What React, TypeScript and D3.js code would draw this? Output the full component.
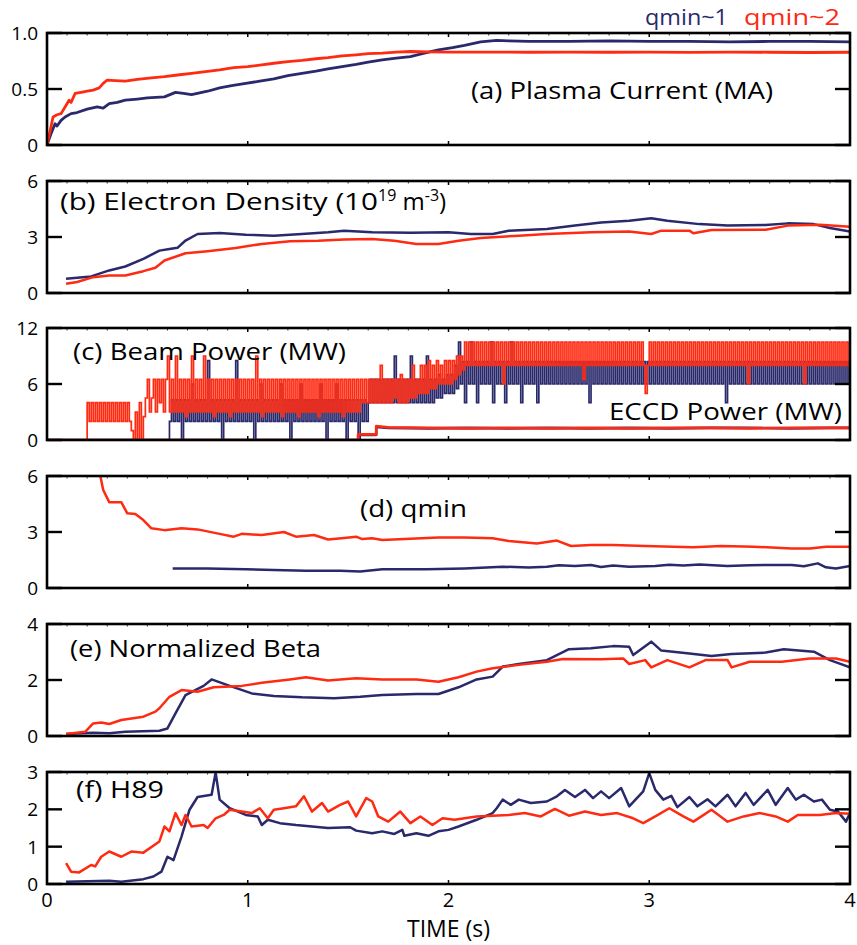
import React from "react";
import * as d3 from "d3";

const NAVY = "#29296b";
const RED = "#ff2a12";
const FONT = "'Open Sans', 'Liberation Sans', sans-serif";

const X0 = 47;
const X1 = 850;
const PH = 112;

const timeTicks = [0, 1, 2, 3, 4];

// (a) Plasma current (MA)
const currentQ1: [number, number][] = [
  [0, 0], [0.02, 0.1], [0.04, 0.19], [0.05, 0.17], [0.07, 0.22], [0.09, 0.25], [0.12, 0.28], [0.15, 0.29], [0.2, 0.32],
  [0.25, 0.34], [0.28, 0.33], [0.31, 0.37], [0.35, 0.38], [0.39, 0.4], [0.45, 0.41], [0.5, 0.42], [0.585, 0.43], [0.64, 0.47],
  [0.68, 0.46], [0.72, 0.45], [0.8, 0.48], [0.86, 0.51], [0.92, 0.53], [0.99, 0.55], [1.06, 0.57], [1.13, 0.59],
  [1.2, 0.62], [1.27, 0.64], [1.34, 0.66], [1.4, 0.68], [1.47, 0.7], [1.54, 0.72], [1.6, 0.74], [1.67, 0.76],
  [1.74, 0.775], [1.81, 0.79], [1.88, 0.82], [1.95, 0.85], [2.02, 0.87], [2.08, 0.89], [2.16, 0.92], [2.24, 0.935],
  [2.3, 0.93], [2.4, 0.925], [2.6, 0.925], [2.8, 0.93], [3.0, 0.925], [3.2, 0.925], [3.4, 0.92], [3.6, 0.925],
  [3.8, 0.925], [4.0, 0.92],
];
const currentQ2: [number, number][] = [
  [0, 0], [0.015, 0.12], [0.03, 0.25], [0.05, 0.27], [0.07, 0.28], [0.09, 0.34], [0.11, 0.4], [0.12, 0.38], [0.14, 0.46],
  [0.17, 0.47], [0.2, 0.48], [0.23, 0.49], [0.26, 0.51], [0.28, 0.55], [0.3, 0.58], [0.34, 0.575], [0.39, 0.57],
  [0.45, 0.585], [0.52, 0.6], [0.585, 0.61], [0.65, 0.625], [0.72, 0.64], [0.79, 0.655], [0.86, 0.67], [0.93, 0.69],
  [1.0, 0.7], [1.07, 0.715], [1.13, 0.73], [1.2, 0.745], [1.27, 0.755], [1.34, 0.77], [1.4, 0.78], [1.47, 0.795],
  [1.54, 0.805], [1.6, 0.815], [1.67, 0.82], [1.74, 0.83], [1.81, 0.835], [1.9, 0.832], [2.0, 0.83], [2.2, 0.83],
  [2.4, 0.828], [2.6, 0.83], [2.8, 0.828], [3.0, 0.83], [3.2, 0.827], [3.4, 0.83], [3.6, 0.828], [3.8, 0.826],
  [4.0, 0.828],
];

// (b) Electron density (1e19 m^-3)
const densityQ1: [number, number][] = [
  [0.095, 0.76], [0.22, 0.89], [0.31, 1.21], [0.39, 1.42], [0.48, 1.83], [0.56, 2.27], [0.61, 2.36], [0.65, 2.42],
  [0.69, 2.81], [0.75, 3.16], [0.86, 3.21], [0.99, 3.12], [1.13, 3.07], [1.27, 3.16], [1.4, 3.25], [1.48, 3.34],
  [1.62, 3.25], [1.81, 3.23], [2.0, 3.25], [2.11, 3.16], [2.22, 3.16], [2.3, 3.34], [2.49, 3.43], [2.63, 3.61],
  [2.76, 3.78], [2.9, 3.87], [3.01, 4.0], [3.09, 3.87], [3.25, 3.69], [3.39, 3.61], [3.58, 3.64], [3.69, 3.73],
  [3.82, 3.69], [3.9, 3.48], [4.0, 3.3],
];
const densityQ2: [number, number][] = [
  [0.095, 0.5], [0.15, 0.59], [0.23, 0.85], [0.31, 0.94], [0.39, 0.94], [0.48, 1.17], [0.54, 1.35], [0.585, 1.74],
  [0.69, 2.13], [0.8, 2.24], [0.94, 2.41], [1.07, 2.63], [1.21, 2.77], [1.35, 2.8], [1.48, 2.86], [1.62, 2.89],
  [1.73, 2.8], [1.84, 2.63], [1.95, 2.63], [2.05, 2.8], [2.16, 2.95], [2.35, 3.07], [2.49, 3.16], [2.71, 3.25],
  [2.9, 3.3], [3.01, 3.16], [3.06, 3.34], [3.2, 3.34], [3.22, 3.2], [3.31, 3.38], [3.58, 3.39], [3.69, 3.61],
  [3.85, 3.66], [4.0, 3.55],
];

// (c) Beam power (MW), sampled every 0.01 s (one row = 0.2 s)
const beamTime = d3.range(0, 401).map((i) => i / 100);
const beamQ1 = [
  0, 0, 0, 0, 0, 0, 0, 0, 0, 0, 0, 0, 0, 0, 0, 0, 0, 0, 0, 0,
  0, 0, 0, 0, 0, 0, 0, 0, 0, 0, 0, 0, 0, 0, 0, 0, 0, 0, 0, 0,
  0, 0, 0, 0, 0, 0, 0, 0, 0, 0, 0, 0, 0, 0, 0, 0, 0, 0, 0, 0,
  0, 2, 4.3, 2, 4.3, 2, 4.3, 0, 4.3, 2, 4.3, 2, 6, 2, 4.3, 2, 4.3, 2, 4.3, 2,
  8.5, 2, 4.3, 2, 4.3, 2, 4.3, 0, 4.3, 2, 4.3, 2, 4.3, 2, 8.5, 2, 4.3, 2, 4.3, 2,
  4.3, 2, 4.3, 0, 4.3, 2, 6, 2, 4.3, 2, 4.3, 2, 4.3, 2, 4.3, 2, 6, 2, 4.3, 2,
  4.3, 0, 4.3, 2, 4.3, 2, 6, 2, 4.3, 2, 4.3, 2, 4.3, 2, 4.3, 2, 6, 2, 4.3, 0,
  4.3, 2, 4.3, 2, 6, 2, 4.3, 2, 4.3, 0, 4.3, 2, 4.3, 2, 4.3, 0, 4.3, 2, 4.3, 2,
  4, 6.5, 4, 6.5, 4, 6.5, 4, 6.5, 4, 6.5, 4, 6.5, 4, 9, 4, 6.5, 4, 6.5, 4, 6.5,
  4, 9, 4, 6.5, 4, 6.5, 4, 6.5, 4, 9, 4, 6.5, 4, 6.5, 4.5, 7, 4.5, 6.5, 5, 7,
  5, 7, 5, 8, 5.5, 10.5, 6, 8.4, 4, 8.4, 6, 10.5, 6, 8.4, 4, 8.4, 6, 8.4, 6, 8.4,
  6, 10.5, 4, 8.4, 6, 8.4, 6, 8.4, 4, 8.4, 6, 10.5, 6, 8.4, 6, 8.4, 4, 8.4, 6, 8.4,
  6, 8.4, 6, 8.4, 4, 8.4, 6, 8.4, 6, 8.4, 6, 8.4, 6, 8.4, 6, 8.4, 6, 8.4, 6, 8.4,
  6, 8.4, 6, 8.4, 6, 8.4, 6, 8.4, 6, 8.4, 4, 8.4, 6, 8.4, 6, 8.4, 6, 8.4, 6, 8.4,
  6, 8.4, 6, 8.4, 6, 8.4, 6, 8.4, 6, 8.4, 6, 8.4, 6, 8.4, 6, 8.4, 6, 8.4, 6, 8.4,
  6, 8.4, 6, 8.4, 6, 8.4, 6, 8.4, 6, 8.4, 6, 8.4, 6, 8.4, 6, 8.4, 6, 8.4, 6, 8.4,
  6, 8.4, 6, 8.4, 6, 8.4, 6, 8.4, 6, 8.4, 6, 8.4, 6, 8.4, 6, 8.4, 6, 8.4, 4, 8.4,
  6, 8.4, 6, 8.4, 6, 8.4, 6, 8.4, 6, 8.4, 6, 8.4, 6, 8.4, 6, 8.4, 6, 8.4, 6, 8.4,
  6, 8.4, 6, 8.4, 6, 8.4, 6, 8.4, 6, 8.4, 6, 8.4, 6, 8.4, 6, 8.4, 6, 8.4, 6, 8.4,
  6, 8.4, 6, 8.4, 6, 8.4, 6, 8.4, 6, 8.4, 6, 8.4, 6, 8.4, 6, 8.4, 6, 8.4, 6, 8.4,
  6,
];
const beamQ2 = [
  0, 0, 0, 0, 0, 0, 0, 0, 0, 0, 0, 0, 0, 0, 0, 0, 0, 0, 0, 0,
  4, 2, 4, 2, 4, 2, 4, 2, 4, 2, 4, 2, 4, 2, 4, 2, 4, 2, 4, 2,
  4, 2, 1, 0, 3, 0, 4, 0, 2.5, 4.5, 6.5, 3, 4.5, 6.5, 3, 6.5, 4, 6.5, 3, 6.5,
  9, 3, 6.5, 3, 9, 3, 6.5, 3, 6.5, 2.5, 6.5, 3, 9, 3, 6.5, 3, 6.5, 3, 9, 3,
  6.5, 3, 6.5, 2.5, 6.5, 3, 6.5, 3, 6.5, 3, 6.5, 2.5, 6.5, 3, 6.5, 3, 6.5, 3, 6.5, 3,
  6.5, 3, 6.5, 3, 9, 3, 6.5, 2.5, 6.5, 3, 6.5, 3, 6.5, 3, 6.5, 3, 6.5, 2.5, 6.5, 3,
  6.5, 3, 6.5, 3, 6.5, 2.5, 6.5, 3, 6.5, 3, 6.5, 3, 6.5, 3, 6.5, 2.5, 6.5, 3, 6.5, 3,
  6.5, 3, 6.5, 3, 6.5, 3, 6.5, 2.5, 6.5, 3, 6.5, 3, 6.5, 3, 6.5, 3, 6.5, 4, 6.5, 4,
  6.5, 4, 6.5, 4, 6.5, 4, 8, 4, 6.5, 4, 6.5, 4, 6.5, 4.5, 6.5, 4, 7, 4, 6.5, 4,
  6.5, 4.5, 8, 4.5, 6.5, 5, 8, 5, 8, 5, 8.5, 5.5, 8, 5.5, 8.5, 6, 8, 6, 8.5, 6,
  8.5, 6, 8.5, 6.5, 9, 7, 9, 7.5, 10.5, 8, 10.5, 8, 10.5, 8, 10.5, 8, 10.5, 8, 10.5, 8,
  10.5, 8, 10.5, 8, 10.5, 8, 10.5, 6, 10.5, 8, 10.5, 8, 10.5, 8, 10.5, 8, 10.5, 8, 10.5, 8,
  10.5, 8, 10.5, 8, 10.5, 8, 10.5, 8, 10.5, 8, 10.5, 8, 10.5, 8, 10.5, 8, 10.5, 8, 10.5, 8,
  10.5, 8, 10.5, 8, 10.5, 8, 10.5, 6.5, 10.5, 8, 10.5, 8, 10.5, 8, 10.5, 8, 10.5, 8, 10.5, 8,
  10.5, 8, 10.5, 8, 10.5, 8, 10.5, 8, 10.5, 8, 10.5, 8, 10.5, 8, 10.5, 8, 10.5, 8, 5, 8,
  10.5, 8, 10.5, 8, 10.5, 8, 10.5, 8, 10.5, 8, 10.5, 8, 10.5, 8, 10.5, 8, 10.5, 8, 10.5, 8,
  10.5, 8, 10.5, 8, 10.5, 8, 10.5, 8, 10.5, 8, 10.5, 8, 10.5, 8, 10.5, 8, 10.5, 8, 10.5, 8,
  10.5, 8, 10.5, 8, 10.5, 8, 10.5, 8, 10.5, 6, 10.5, 8, 10.5, 8, 10.5, 8, 10.5, 8, 10.5, 8,
  10.5, 8, 10.5, 8, 10.5, 8, 10.5, 8, 10.5, 8, 10.5, 8, 10.5, 8, 10.5, 8, 10.5, 6, 10.5, 8,
  10.5, 8, 10.5, 8, 10.5, 8, 10.5, 8, 10.5, 8, 10.5, 8, 10.5, 8, 10.5, 8, 10.5, 8, 10.5, 8,
  8,
];
// ECCD power (MW)
const eccdTime = [0, 1.55, 1.55, 1.64, 1.64, 1.7, 1.9, 2.1, 2.3, 2.5, 2.7, 2.9, 3.1, 3.3, 3.5, 3.7, 3.9, 4.0];
const eccdQ1 = [0, 0, 0.55, 0.55, 1.4, 1.3, 1.25, 1.3, 1.25, 1.3, 1.25, 1.3, 1.25, 1.3, 1.3, 1.25, 1.3, 1.3];
const eccdQ2 = [0, 0, 0.6, 0.6, 1.5, 1.35, 1.3, 1.25, 1.3, 1.25, 1.3, 1.25, 1.3, 1.3, 1.25, 1.3, 1.3, 1.3];

// (d) qmin
const qminQ1: [number, number][] = [
  [0.626, 1.05], [0.8, 1.05], [0.99, 1.0], [1.13, 0.96], [1.29, 0.93], [1.46, 0.93], [1.56, 0.88], [1.67, 1.0],
  [1.89, 1.0], [2.08, 1.05], [2.27, 1.14], [2.4, 1.1], [2.49, 1.14], [2.55, 1.22], [2.63, 1.18], [2.71, 1.23],
  [2.76, 1.12], [2.82, 1.2], [2.9, 1.14], [3.03, 1.18], [3.1, 1.25], [3.17, 1.2], [3.25, 1.26], [3.39, 1.18],
  [3.5, 1.22], [3.58, 1.23], [3.71, 1.23], [3.77, 1.16], [3.84, 1.32], [3.88, 1.11], [3.93, 1.05], [4.0, 1.18],
];
const qminQ2: [number, number][] = [
  [0.26, 6.3], [0.28, 5.25], [0.31, 4.6], [0.37, 4.6], [0.4, 4.0], [0.44, 3.96], [0.48, 3.64], [0.52, 3.2],
  [0.585, 3.1], [0.67, 3.2], [0.75, 3.14], [0.86, 2.9], [0.93, 2.75], [0.97, 2.9], [1.07, 2.84], [1.18, 3.0],
  [1.24, 2.75], [1.33, 2.84], [1.4, 2.6], [1.48, 2.68], [1.54, 2.75], [1.57, 2.62], [1.62, 2.66], [1.67, 2.57],
  [1.81, 2.64], [1.95, 2.71], [2.08, 2.71], [2.22, 2.66], [2.3, 2.52], [2.44, 2.39], [2.54, 2.54], [2.61, 2.25],
  [2.71, 2.3], [2.82, 2.3], [2.98, 2.25], [3.12, 2.21], [3.22, 2.18], [3.36, 2.25], [3.52, 2.21], [3.71, 2.12],
  [3.8, 2.12], [3.88, 2.21], [4.0, 2.21],
];

// (e) Normalized beta
const betaQ1: [number, number][] = [
  [0.095, 0.07], [0.23, 0.12], [0.31, 0.1], [0.39, 0.15], [0.56, 0.19], [0.6, 0.27], [0.64, 0.81], [0.69, 1.46],
  [0.78, 1.79], [0.82, 2.02], [0.91, 1.79], [1.02, 1.52], [1.13, 1.43], [1.27, 1.38], [1.43, 1.35], [1.56, 1.4],
  [1.67, 1.46], [1.84, 1.5], [1.95, 1.5], [2.05, 1.74], [2.14, 2.02], [2.22, 2.12], [2.27, 2.48], [2.35, 2.57],
  [2.49, 2.71], [2.6, 3.1], [2.71, 3.13], [2.82, 3.21], [2.9, 3.19], [2.92, 2.89], [3.01, 3.37], [3.06, 3.05],
  [3.2, 2.95], [3.31, 2.86], [3.41, 2.93], [3.58, 2.98], [3.67, 3.1], [3.82, 3.01], [3.9, 2.71], [4.0, 2.45],
];
const betaQ2: [number, number][] = [
  [0.095, 0.07], [0.19, 0.15], [0.23, 0.45], [0.27, 0.48], [0.31, 0.43], [0.37, 0.57], [0.48, 0.69], [0.54, 0.87],
  [0.56, 0.99], [0.61, 1.4], [0.67, 1.64], [0.75, 1.58], [0.83, 1.74], [0.97, 1.79], [1.07, 1.9], [1.21, 2.02],
  [1.29, 2.1], [1.4, 1.98], [1.54, 2.06], [1.67, 2.02], [1.84, 2.02], [1.95, 1.94], [2.05, 2.1], [2.14, 2.3],
  [2.22, 2.42], [2.35, 2.54], [2.49, 2.65], [2.57, 2.75], [2.76, 2.74], [2.87, 2.77], [2.9, 2.57], [2.98, 2.71],
  [3.01, 2.45], [3.09, 2.71], [3.2, 2.45], [3.28, 2.71], [3.39, 2.71], [3.41, 2.45], [3.5, 2.65], [3.66, 2.65],
  [3.8, 2.77], [3.93, 2.77], [4.0, 2.65],
];

// (f) H89
const h89Q1: [number, number][] = [
  [0.095, 0.06], [0.31, 0.09], [0.37, 0.06], [0.48, 0.13], [0.53, 0.2], [0.57, 0.33], [0.6, 0.73], [0.63, 0.64],
  [0.67, 1.27], [0.71, 1.99], [0.75, 2.33], [0.82, 2.39], [0.84, 2.99], [0.86, 2.26], [0.91, 2.03], [0.99, 1.85],
  [1.05, 1.81], [1.07, 1.58], [1.1, 1.72], [1.16, 1.63], [1.24, 1.58], [1.32, 1.54], [1.4, 1.5], [1.51, 1.52],
  [1.54, 1.43], [1.62, 1.36], [1.67, 1.41], [1.73, 1.34], [1.77, 1.45], [1.78, 1.29], [1.84, 1.36], [1.9, 1.29],
  [1.95, 1.41], [2.0, 1.45], [2.05, 1.54], [2.14, 1.72], [2.22, 1.9], [2.24, 2.03], [2.27, 2.26], [2.31, 2.12],
  [2.35, 2.26], [2.41, 2.17], [2.49, 2.21], [2.54, 2.35], [2.58, 2.52], [2.63, 2.33], [2.68, 2.52], [2.72, 2.3],
  [2.76, 2.48], [2.8, 2.3], [2.86, 2.57], [2.9, 2.08], [2.97, 2.48], [3.0, 2.97], [3.03, 2.52], [3.07, 2.26],
  [3.11, 2.36], [3.14, 2.06], [3.2, 2.33], [3.24, 2.08], [3.29, 2.27], [3.33, 2.08], [3.39, 2.39], [3.43, 2.08],
  [3.48, 2.44], [3.52, 2.12], [3.59, 2.52], [3.63, 2.12], [3.69, 2.57], [3.73, 2.26], [3.77, 2.39], [3.82, 2.21],
  [3.86, 2.26], [3.9, 1.99], [3.94, 1.94], [3.98, 1.67], [4.0, 1.9],
];
const h89Q2: [number, number][] = [
  [0.095, 0.56], [0.12, 0.33], [0.16, 0.31], [0.22, 0.51], [0.24, 0.47], [0.27, 0.73], [0.31, 0.87], [0.37, 0.73],
  [0.42, 0.87], [0.48, 0.84], [0.56, 1.14], [0.585, 1.54], [0.61, 1.41], [0.64, 1.9], [0.67, 1.58], [0.69, 1.85],
  [0.72, 1.54], [0.78, 1.58], [0.8, 1.5], [0.84, 1.76], [0.88, 1.85], [0.91, 1.99], [0.97, 1.94], [1.02, 1.9],
  [1.06, 2.03], [1.1, 1.76], [1.13, 1.99], [1.18, 2.03], [1.24, 2.08], [1.28, 2.35], [1.32, 1.94], [1.37, 2.17],
  [1.4, 1.94], [1.46, 2.12], [1.5, 2.21], [1.54, 1.81], [1.59, 2.3], [1.62, 2.21], [1.65, 1.81], [1.7, 1.67],
  [1.76, 1.94], [1.81, 1.63], [1.86, 1.81], [1.92, 1.58], [1.97, 1.76], [2.03, 1.72], [2.08, 1.76], [2.14, 1.81],
  [2.22, 1.83], [2.3, 1.85], [2.38, 1.9], [2.46, 1.81], [2.53, 2.01], [2.6, 1.83], [2.68, 1.94], [2.76, 1.85],
  [2.84, 1.9], [2.92, 1.76], [2.97, 1.63], [3.03, 1.81], [3.1, 2.03], [3.17, 1.81], [3.22, 1.67], [3.31, 1.99],
  [3.39, 1.67], [3.47, 1.81], [3.55, 1.9], [3.63, 1.81], [3.69, 1.67], [3.74, 1.85], [3.85, 1.85], [3.93, 1.9],
  [4.0, 1.88],
];

type Series = { data: [number, number][]; color: string; width: number; step?: boolean };
type Panel = {
  key: string;
  top: number;
  domain: [number, number];
  ticks: number[];
  tickLabels: string[];
  series: Series[];
};

const pair = (ts: number[], vs: number[]): [number, number][] => vs.map((v, i) => [ts[i], v]);

const panels: Panel[] = [
  {
    key: "a", top: 33, domain: [0, 1], ticks: [0, 0.5, 1], tickLabels: ["0", "0.5", "1.0"],
    series: [
      { data: currentQ1, color: NAVY, width: 2.8 },
      { data: currentQ2, color: RED, width: 2.8 },
    ],
  },
  {
    key: "b", top: 181, domain: [0, 6], ticks: [0, 3, 6], tickLabels: ["0", "3", "6"],
    series: [
      { data: densityQ1, color: NAVY, width: 2.5 },
      { data: densityQ2, color: RED, width: 2.5 },
    ],
  },
  {
    key: "c", top: 328, domain: [0, 12], ticks: [0, 6, 12], tickLabels: ["0", "6", "12"],
    series: [
      { data: pair(beamTime, beamQ1), color: NAVY, width: 1.7, step: true },
      { data: pair(beamTime, beamQ2), color: RED, width: 1.7, step: true },
      { data: pair(eccdTime, eccdQ1), color: NAVY, width: 2.6 },
      { data: pair(eccdTime, eccdQ2), color: RED, width: 2.6 },
    ],
  },
  {
    key: "d", top: 476, domain: [0, 6], ticks: [0, 3, 6], tickLabels: ["0", "3", "6"],
    series: [
      { data: qminQ1, color: NAVY, width: 2.5 },
      { data: qminQ2, color: RED, width: 2.5 },
    ],
  },
  {
    key: "e", top: 624, domain: [0, 4], ticks: [0, 2, 4], tickLabels: ["0", "2", "4"],
    series: [
      { data: betaQ1, color: NAVY, width: 2.5 },
      { data: betaQ2, color: RED, width: 2.5 },
    ],
  },
  {
    key: "f", top: 772, domain: [0, 3], ticks: [0, 1, 2, 3], tickLabels: ["0", "1", "2", "3"],
    series: [
      { data: h89Q1, color: NAVY, width: 2.5 },
      { data: h89Q2, color: RED, width: 2.5 },
    ],
  },
];

const minorTimeTicks = d3.range(1, 40).map((i) => i / 10).filter((t) => Math.abs(t - Math.round(t)) > 1e-6);

export default function App() {
  const x = d3.scaleLinear().domain([0, 4]).range([X0, X1]);
  const bottomPanel = panels[panels.length - 1];
  const axisY = bottomPanel.top + PH;
  const label = (txt: string, lx: number, ly: number, w: number, fill = "#000", fs = 24) => (
    <text x={lx} y={ly} fontSize={fs} fill={fill} textLength={w} lengthAdjust="spacingAndGlyphs">
      {txt}
    </text>
  );

  return (
    <svg
      width={857}
      height={945}
      style={{ position: "absolute", left: 0, top: 0, background: "#fff" }}
      fontFamily={FONT}
    >
      <defs>
        {panels.map((p) => (
          <clipPath id={`clip-${p.key}`} key={p.key}>
            <rect x={X0} y={p.top} width={X1 - X0} height={PH} />
          </clipPath>
        ))}
      </defs>
      {panels.map((p) => {
        const y = d3.scaleLinear().domain(p.domain).range([p.top + PH, p.top]);
        return (
          <g key={p.key}>
            <g clipPath={`url(#clip-${p.key})`}>
              {p.series.map((s, i) => {
                const gen = d3
                  .line<[number, number]>()
                  .x((d) => x(d[0]))
                  .y((d) => y(d[1]))
                  .curve(s.step ? d3.curveStepAfter : d3.curveLinear);
                return (
                  <path
                    key={i}
                    d={gen(s.data) || ""}
                    fill="none"
                    stroke={s.color}
                    strokeWidth={s.width}
                    strokeLinejoin={s.step ? "miter" : "round"}
                  />
                );
              })}
            </g>
            <rect x={X0} y={p.top} width={X1 - X0} height={PH} fill="none" stroke="#000" strokeWidth={2.6} />
            {p.ticks.map((t) => (
              <g key={t}>
                <line x1={X0} x2={X0 + 15} y1={y(t)} y2={y(t)} stroke="#000" strokeWidth={2.4} />
                <line x1={X1} x2={X1 - 15} y1={y(t)} y2={y(t)} stroke="#000" strokeWidth={2.4} />
              </g>
            ))}
            {p.ticks.map((t, i) => (
              <text key={"l" + t} x={38} y={y(t)} dy="0.36em" textAnchor="end" fontSize={19} fill="#000">
                {p.tickLabels[i]}
              </text>
            ))}
            {timeTicks.slice(1, -1).map((t) => (
              <g key={"x" + t}>
                <line x1={x(t)} x2={x(t)} y1={p.top} y2={p.top + 4} stroke="#000" strokeWidth={1.5} />
                <line x1={x(t)} x2={x(t)} y1={p.top + PH} y2={p.top + PH - 4} stroke="#000" strokeWidth={1.5} />
              </g>
            ))}
            {minorTimeTicks.map((t) => (
              <line key={"m" + t} x1={x(t)} x2={x(t)} y1={p.top} y2={p.top + 2.5} stroke="#000" strokeWidth={0.8} />
            ))}
          </g>
        );
      })}

      {timeTicks.map((t) => (
        <text key={t} x={x(t)} y={axisY + 16} dy="0.36em" textAnchor="middle" fontSize={20} fill="#000">
          {t}
        </text>
      ))}
      <text x={(X0 + X1) / 2} y={937} textAnchor="middle" fontSize={23} fill="#000">
        TIME (s)
      </text>

      {label("qmin~1", 645, 25, 83, NAVY, 21)}
      {label("qmin~2", 744, 25, 96, RED, 21)}

      {label("(a) Plasma Current (MA)", 471, 99, 302)}
      <text x={60} y={210} fontSize={24} fill="#000">
        <tspan textLength={318} lengthAdjust="spacingAndGlyphs">(b) Electron Density (10</tspan>
        <tspan fontSize={16} dy={-9}>19</tspan>
        <tspan dy={9}> m</tspan>
        <tspan fontSize={16} dy={-9}>-3</tspan>
        <tspan dy={9}>)</tspan>
      </text>
      {label("(c) Beam Power (MW)", 73, 360, 273)}
      {label("ECCD Power (MW)", 609, 420, 233)}
      {label("(d) qmin", 360, 517, 107)}
      {label("(e) Normalized Beta", 70, 657, 251)}
      {label("(f) H89", 76, 798, 88)}
    </svg>
  );
}
